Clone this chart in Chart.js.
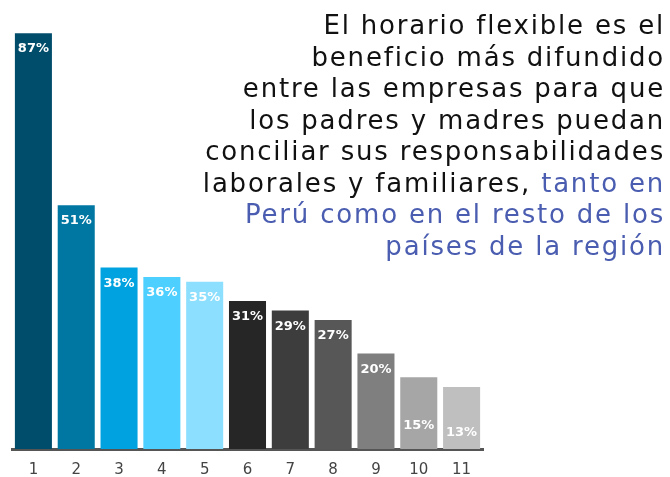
<!DOCTYPE html>
<html>
<head>
<meta charset="utf-8">
<script src="https://cdn.jsdelivr.net/npm/chart.js@4.4.0/dist/chart.umd.min.js"></script>
<style>
  html, body { margin: 0; padding: 0; background: #fff; }
  #wrap { position: relative; width: 670px; height: 477px; }
  #title {
    position: absolute;
    right: 5px;
    top: 10px;
    text-align: right;
    font-family: 'DejaVu Sans', 'Noto Sans', sans-serif;
    font-size: 26px;
    line-height: 31.5px;
    color: #111;
    letter-spacing: 1.8px;
    white-space: nowrap;
  }
  #title .hl { color: #4a5db0; }
</style>
</head>
<body>
<div id="wrap">
  <canvas id="myChart" width="670" height="477"></canvas>
  <div id="title">
    El horario flexible es el<br>
    beneficio más difundido<br>
    entre las empresas para que<br>
    los padres y madres puedan<br>
    conciliar sus responsabilidades<br>
    laborales y familiares, <span class="hl">tanto en</span><br>
    <span class="hl">Perú como en el resto de los</span><br>
    <span class="hl">países de la región</span>
  </div>
</div>
<script>
// Categories and values
const labels = ['1', '2', '3', '4', '5', '6', '7', '8', '9', '10', '11'];
const values = [87, 51, 38, 36, 35, 31, 29, 27, 20, 15, 13];

const barColors = [
  '#004d6b', '#0077a3', '#00a3e0', '#4dcfff', '#8ddfff',
  '#262626', '#3d3d3d', '#575757', '#7f7f7f', '#a6a6a6', '#bfbfbf',
];

// label distance below bar top (px); last two sit lower in their bars
const labelOffsets = [15, 15, 16, 16, 16, 16, 16, 16, 16, 48, 46];

const valueLabelsPlugin = {
  id: 'valueLabelsPlugin',
  afterDatasetsDraw(chart) {
    const { ctx } = chart;
    const meta = chart.getDatasetMeta(0);
    ctx.save();
    ctx.fillStyle = '#ffffff';
    ctx.font = 'bold 13px "DejaVu Sans", Verdana, sans-serif';
    ctx.textAlign = 'center';
    ctx.textBaseline = 'middle';
    meta.data.forEach((bar, i) => {
      ctx.fillText(values[i] + '%', bar.x, bar.y + labelOffsets[i]);
    });
    ctx.restore();
  },
};

const ctx = document.getElementById('myChart');

new Chart(ctx, {
  type: 'bar',
  data: {
    labels,
    datasets: [
      {
        data: values,
        backgroundColor: barColors,
        borderWidth: 0,
        barPercentage: 0.865,
        categoryPercentage: 1,
      },
    ],
  },
  options: {
    responsive: false,
    animation: false,
    layout: {
      padding: { top: 19, left: 12, right: 187, bottom: 0 },
    },
    plugins: {
      legend: { display: false },
      tooltip: { enabled: false },
    },
    scales: {
      x: {
        grid: { display: false },
        border: { display: true, color: '#555555', width: 3 },
        ticks: {
          color: '#444444',
          font: { family: '"DejaVu Sans", Verdana, sans-serif', size: 15 },
          padding: 4,
        },
        afterFit: (scale) => {
          scale.height = 28;
        },
      },
      y: {
        display: false,
        min: 0,
        max: 90,
      },
    },
  },
  plugins: [valueLabelsPlugin],
});
</script>
</body>
</html>
